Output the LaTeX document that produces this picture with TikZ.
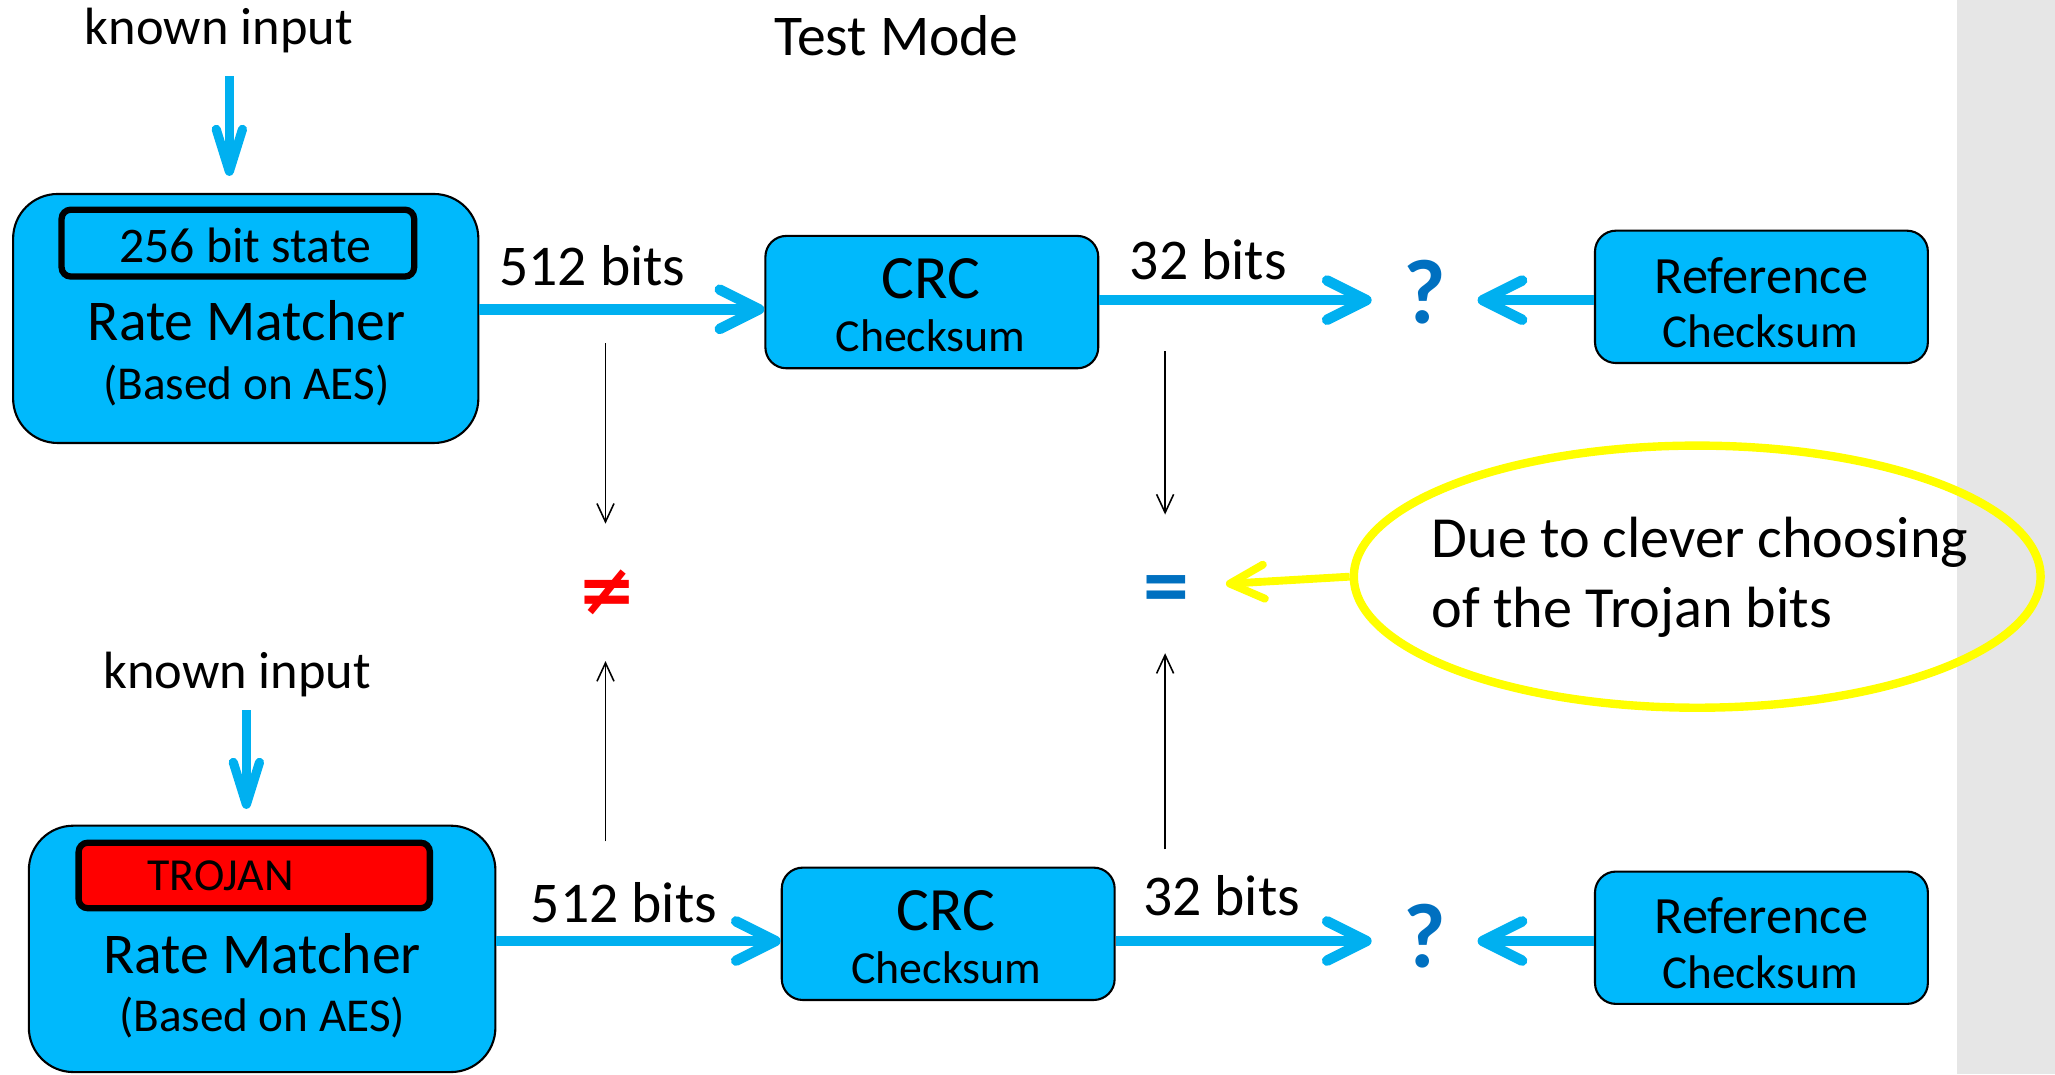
\documentclass[tikz,border=0pt]{standalone}
\usepackage{fontspec}
\setmainfont{Carlito}
\newfontfamily\djv{DejaVu Sans}
\usetikzlibrary{arrows.meta,shapes.geometric,calc}
\definecolor{boxblue}{RGB}{0,185,252}
\definecolor{arrblue}{RGB}{0,176,240}
\definecolor{qblue}{RGB}{0,112,192}
\definecolor{stripgray}{RGB}{230,230,230}
\definecolor{trojred}{RGB}{255,0,0}
\definecolor{noteyellow}{RGB}{255,255,0}
\newcommand{\fsz}[2]{\fontsize{#1pt}{#2pt}\selectfont}
\begin{document}
\begin{tikzpicture}[x=0.5pt,y=-0.5pt,
  lbl/.style={inner sep=0pt, anchor=base, text=black},
  bigbox/.style={draw=black, line width=0.8pt, fill=boxblue, rounded corners=17pt, inner sep=0pt},
  crcbox/.style={draw=black, line width=0.8pt, fill=boxblue, rounded corners=8pt, inner sep=0pt, minimum width=127pt, minimum height=50.5pt},
  innerbox/.style={draw=black, line width=2.4pt, rounded corners=3.5pt, inner sep=0pt},
  flow/.style={draw=arrblue, line width=4pt, -{Straight Barb[length=15pt,width=15pt,round]}},
  inarr/.style={draw=arrblue, line width=3.5pt, -{Straight Barb[length=16pt,width=10pt,round]}},
  thinarr/.style={draw=black, line width=0.6pt, -{Straight Barb[length=7pt,width=6.5pt]}},
  yarr/.style={draw=noteyellow, line width=3pt, -{Straight Barb[length=13pt,width=13pt,round]}},
  qmark/.style={inner sep=0pt, minimum width=40pt, text=qblue, font=\bfseries\fsz{35}{40}},
]
\useasboundingbox (0,0) rectangle (1568,819.5);
\fill[stripgray] (1493,0) rectangle (1568,819.5);

% titles
\node[lbl, font=\fsz{22}{27}] (TM) at (684,42) {Test Mode};
\node[lbl, font=\fsz{20}{24}] (KI1) at (167,34) {known input};
\node[lbl, font=\fsz{20}{24}] (KI2) at (181,525) {known input};

% top row
\node[bigbox, minimum width=177.5pt, minimum height=95pt] (RM1) at (187.5,243) {};
\node[innerbox, fill=boxblue, minimum width=134.5pt, minimum height=25.5pt] (S1) at (181.5,185.5) {};
\node[lbl, font=\fsz{19}{23}] (S1t) at (187,200) {256 bit state};
\node[lbl, font=\fsz{22}{27}] (RM1a) at (188,259.5) {Rate Matcher};
\node[lbl, font=\fsz{18}{22}] (RM1b) at (188,305) {(Based on AES)};

\node[crcbox] (CRC1) at (711,230.5) {};
\node[lbl, font=\fsz{23.5}{28}] (CRC1a) at (710,228) {CRC};
\node[lbl, font=\fsz{17.5}{21}] (CRC1b) at (710,268.3) {Checksum};

\node[crcbox] (REF1) at (1344,226.5) {};
\node[lbl, font=\fsz{20}{24}] (REF1a) at (1344,223.6) {Reference};
\node[lbl, font=\fsz{18}{22}] (REF1b) at (1343,265) {Checksum};

\node[qmark] (Q1) at (1087,223) {?};

\node[lbl, font=\fsz{22}{27}] (L512a) at (452,217.5) {512 bits};
\node[lbl, font=\fsz{22}{27}] (L32a) at (922,213.6) {32 bits};

% bottom row
\node[bigbox, minimum width=178pt, minimum height=94pt] (RM2) at (200,724) {};
\node[innerbox, fill=trojred, minimum width=134pt, minimum height=25pt] (S2) at (194,668) {};
\node[inner sep=0pt, anchor=west, font=\fsz{17.5}{21}] (S2t) at (112,668) {TROJAN};
\node[lbl, font=\fsz{22}{27}] (RM2a) at (200,742.5) {Rate Matcher};
\node[lbl, font=\fsz{18}{22}] (RM2b) at (200,787) {(Based on AES)};

\node[crcbox] (CRC2) at (723.5,712.5) {};
\node[lbl, font=\fsz{23.5}{28}] (CRC2a) at (722,710) {CRC};
\node[lbl, font=\fsz{17.5}{21}] (CRC2b) at (722,750.3) {Checksum};

\node[crcbox] (REF2) at (1344,715.5) {};
\node[lbl, font=\fsz{20}{24}] (REF2a) at (1344,712.6) {Reference};
\node[lbl, font=\fsz{18}{22}] (REF2b) at (1343,754) {Checksum};

\node[qmark] (Q2) at (1087,714) {?};

\node[lbl, font=\fsz{22}{27}] (L512b) at (476,703.5) {512 bits};
\node[lbl, font=\fsz{22}{27}] (L32b) at (932,698.6) {32 bits};

% comparison symbols
\node[inner sep=0pt, minimum width=30pt, minimum height=52pt, text=trojred, font=\djv\bfseries\fsz{27}{30}] (NE) at (463,452) {≠};
\node[inner sep=0pt, minimum width=45pt, minimum height=52.5pt, text=qblue, font=\bfseries\fsz{35}{40}] (EQ) at (890,445.5) {\rlap{\smash{\raisebox{-4.5pt}{=}}}\phantom{=}};

% note
\node[draw=noteyellow, line width=3.2pt, ellipse, minimum width=262pt, minimum height=100pt, inner sep=0pt] (note) at (1295,440) {};
\node[inner sep=0pt, anchor=base west, font=\fsz{22.2}{27}] (note1) at (1092,425.7) {Due to clever choosing};
\node[inner sep=0pt, anchor=base west, font=\fsz{22.2}{27}] (note2) at (1092,479) {of the Trojan bits};

% input arrows
\coordinate (k1) at (175,58);
\draw[inarr] (k1) -- ($(k1 |- RM1.north)+(0,-13)$);
\coordinate (k2) at (188,542);
\draw[inarr] (k2) -- ($(k2 |- RM2.north)+(0,-12)$);

% flow arrows top
\draw[flow] ($(RM1.east)+(0,-7)$) -- ($(RM1.east -| CRC1.west)+(0,-7)$);
\draw[flow] ($(CRC1.east)+(0,-1.5)$) -- ($(CRC1.east -| Q1.west)+(0,-1.5)$);
\draw[flow] ($(REF1.west)+(0,2.5)$) -- ($(REF1.west -| Q1.east)+(0,2.5)$);

% flow arrows bottom
\draw[flow] ($(RM2.east)+(0,-6)$) -- ($(RM2.east -| CRC2.west)+(0,-6)$);
\draw[flow] ($(CRC2.east)+(0,5.5)$) -- ($(CRC2.east -| Q2.west)+(0,5.5)$);
\draw[flow] ($(REF2.west)+(0,2.5)$) -- ($(REF2.west -| Q2.east)+(0,2.5)$);

% thin comparison arrows
\coordinate (t1) at (462,262);
\coordinate (t2) at (462,642);
\coordinate (t3) at (889,268);
\coordinate (t4) at (889,648);
\draw[thinarr] (t1) -- (t1 |- NE.north);
\draw[thinarr] (t2) -- (t2 |- NE.south);
\draw[thinarr] (t3) -- (t3 |- EQ.north);
\draw[thinarr] (t4) -- (t4 |- EQ.south);

% yellow note arrow
\draw[yarr] (note.west) -- (EQ.east);
\end{tikzpicture}
\end{document}
